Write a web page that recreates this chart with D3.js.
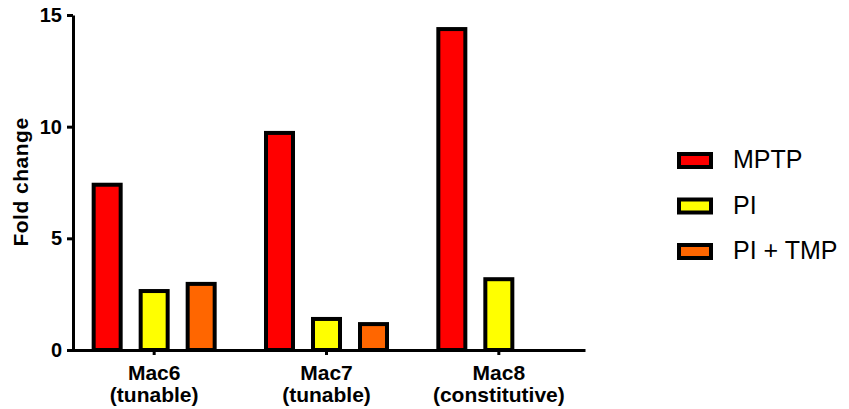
<!DOCTYPE html>
<html>
<head>
<meta charset="utf-8">
<script src="https://cdn.jsdelivr.net/npm/d3@7"></script>
<style>
  body { margin: 0; background: #fff; }
  text { font-family: Arial, "Liberation Sans", sans-serif; }
</style>
</head>
<body>
<svg></svg>
<script>
var width = 849;
var height = 409;

// data
var groups = ["Mac6\n(tunable)", "Mac7\n(tunable)", "Mac8\n(constitutive)"];
var series = ["MPTP", "PI", "PI + TMP"];
var colors = ["#ff0000", "#ffff00", "#ff6600"];
var mptp = [7.4, 9.72, 14.37];
var pi = [2.64, 1.39, 3.17];
var piTmp = [2.96, 1.16, null];
var yTicks = [0, 5, 10, 15];

var values = [mptp, pi, piTmp];

var svg = d3.select("svg")
  .attr("width", width)
  .attr("height", height);

var x = d3.scaleBand()
  .domain(groups)
  .range([68, 585]);

var x1 = d3.scaleBand()
  .domain(series)
  .range([-70.5, 70.5])
  .paddingInner(20 / 47)
  .paddingOuter(10 / 47);

var y = d3.scaleLinear()
  .domain([0, 15])
  .range([350, 15]);

var color = d3.scaleOrdinal().domain(series).range(colors);

// flatten for drawing
var bars = [];
groups.forEach(function(g, gi) {
  series.forEach(function(s, si) {
    var v = values[si][gi];
    if (v != null) bars.push({group: g, series: s, value: v});
  });
});

svg.selectAll(".bar")
  .data(bars)
  .enter().append("rect")
    .attr("class", "bar")
    .attr("x", function(d) { return x(d.group) + x.bandwidth() / 2 + x1(d.series); })
    .attr("width", x1.bandwidth())
    .attr("y", function(d) { return y(d.value); })
    .attr("height", function(d) { return y(0) - y(d.value); })
    .style("fill", function(d) { return color(d.series); })
    .style("stroke", "#000")
    .style("stroke-width", 4);

// y axis
var yAxis = svg.append("g")
  .attr("transform", "translate(73,0)")
  .call(d3.axisLeft(y).tickValues(yTicks).tickSize(6).tickSizeOuter(0).tickPadding(5));

yAxis.select(".domain").attr("stroke-width", 3);
yAxis.selectAll(".tick line").attr("stroke-width", 3);
yAxis.selectAll(".tick text")
  .style("font-size", "20px")
  .style("font-weight", "bold")
  .attr("fill", "#000");

// x axis
var xAxis = svg.append("g")
  .attr("transform", "translate(0,350)")
  .call(d3.axisBottom(x).tickSize(5).tickSizeOuter(0).tickFormat(""));

xAxis.select(".domain").attr("stroke-width", 3);
xAxis.selectAll(".tick line").attr("stroke-width", 3);

var xl = svg.selectAll(".xlabel")
  .data(groups)
  .enter().append("text")
    .attr("class", "xlabel")
    .attr("text-anchor", "middle")
    .style("font-size", "21px")
    .style("font-weight", "bold")
    .attr("transform", function(d) { return "translate(" + (x(d) + x.bandwidth() / 2) + ",380)"; });

xl.selectAll("tspan")
  .data(function(d) { return d.split("\n"); })
  .enter().append("tspan")
    .attr("x", 0)
    .attr("dy", function(d, i) { return i === 0 ? 0 : 22; })
    .text(function(d) { return d; });

// y title
svg.append("text")
  .attr("transform", "translate(28,182) rotate(-90)")
  .attr("text-anchor", "middle")
  .style("font-size", "21px")
  .style("font-weight", "bold")
  .style("letter-spacing", "0.5px")
  .text("Fold change");

// legend
var legend = svg.selectAll(".legend")
  .data(series)
  .enter().append("g")
    .attr("class", "legend")
    .attr("transform", function(d, i) { return "translate(679," + (154 + 45.5 * i) + ")"; });

legend.append("rect")
  .attr("width", 32)
  .attr("height", 13)
  .style("fill", function(d) { return color(d); })
  .style("stroke", "#000")
  .style("stroke-width", 4);

legend.append("text")
  .attr("x", 54)
  .attr("y", 14)
  .style("font-size", "25px")
  .text(function(d) { return d; });
</script>
</body>
</html>
